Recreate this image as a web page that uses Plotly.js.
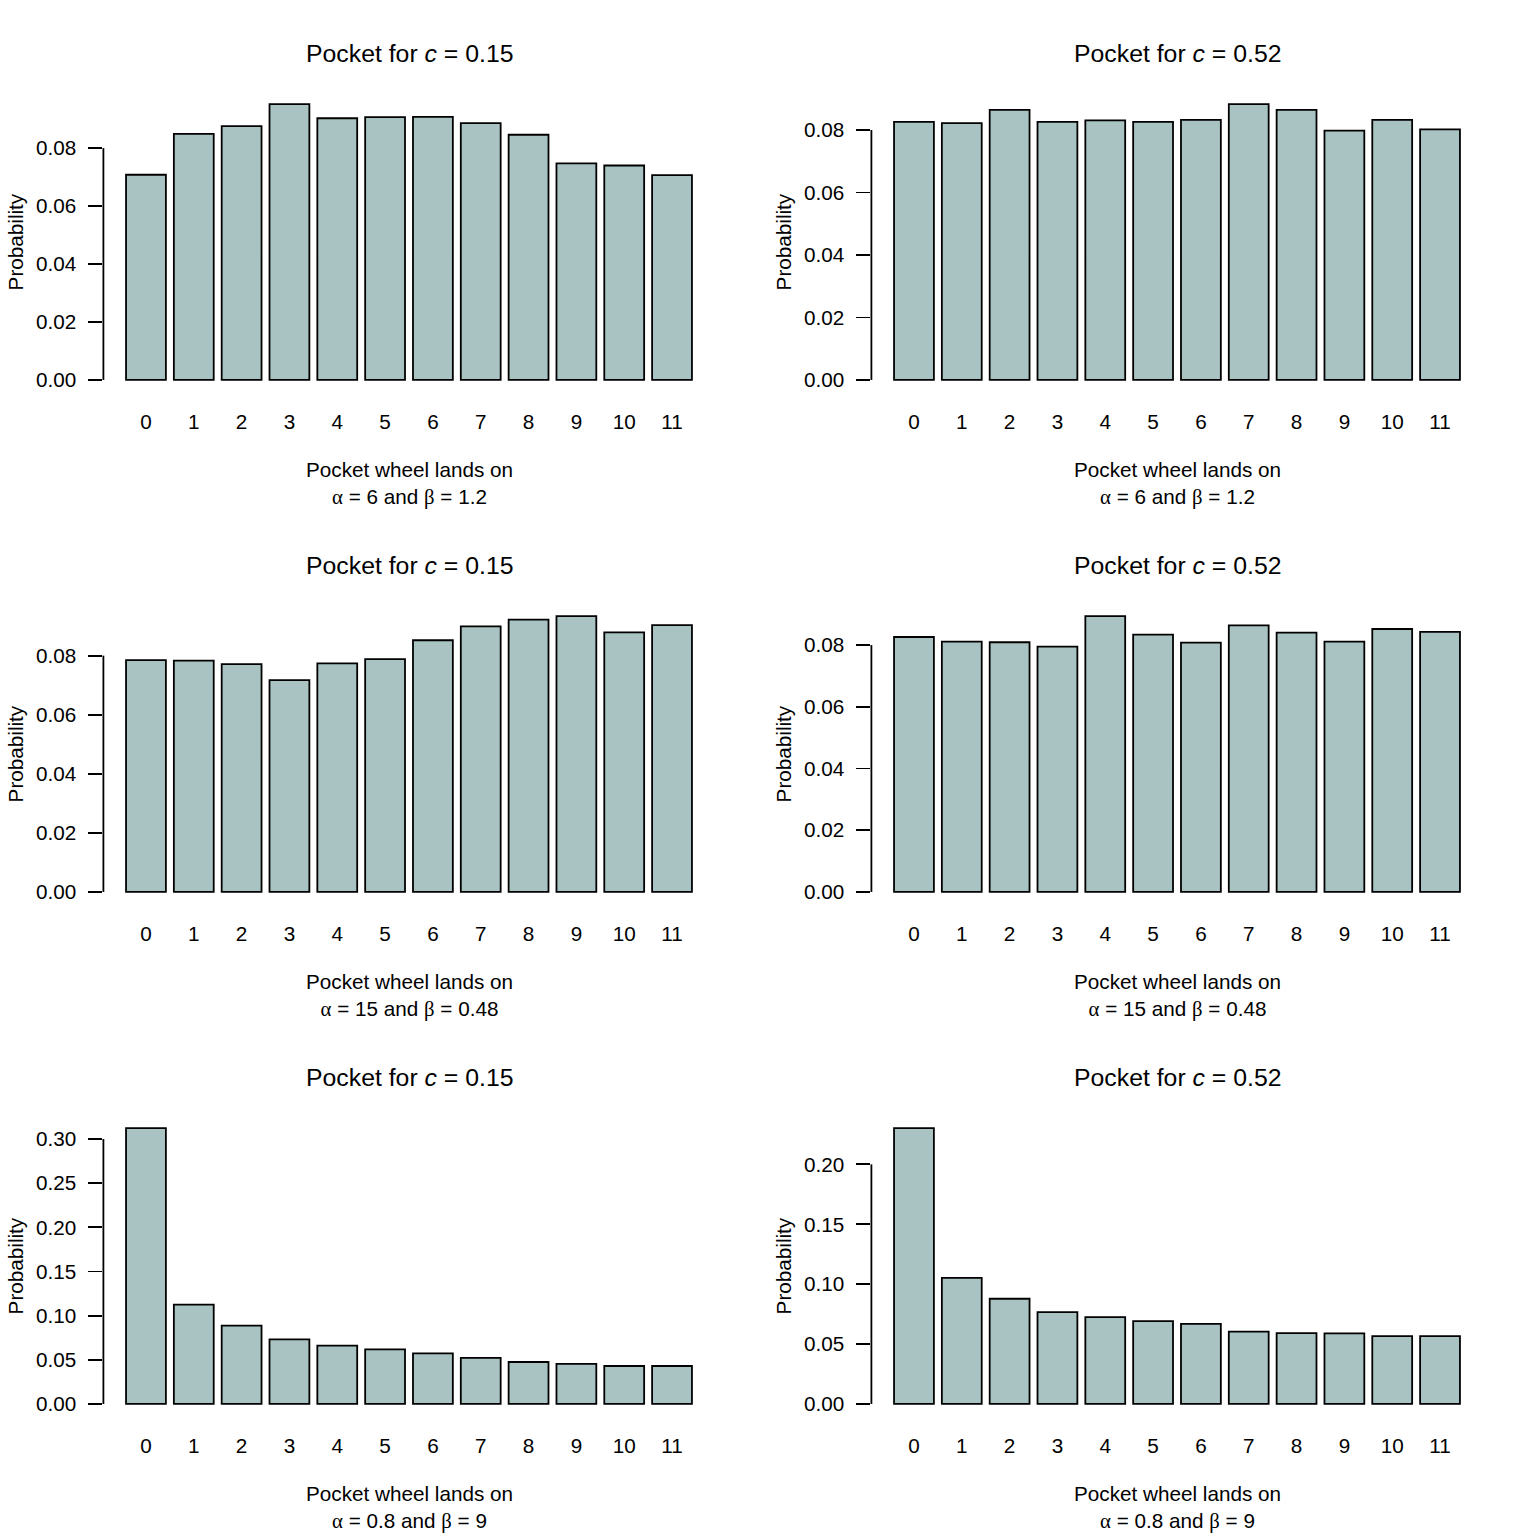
<!DOCTYPE html>
<html>
<head>
<meta charset="utf-8">
<script src="https://cdn.plot.ly/plotly-3.0.1.min.js"></script>
<style>html,body{margin:0;padding:0;background:#fff;}</style>
</head>
<body>
<div id="chart" style="width:1536px;height:1536px;"></div>
<script>
// ---- data ----
const pockets = ['0','1','2','3','4','5','6','7','8','9','10','11'];
const probA6C015 = [0.0708,0.0849,0.0876,0.0952,0.0903,0.0907,0.0908,0.0886,0.0846,0.0747,0.0740,0.0707];
const probA6C052 = [0.0826,0.0822,0.0864,0.0826,0.0831,0.0826,0.0832,0.0883,0.0864,0.0798,0.0832,0.0802];
const probA15C015 = [0.0785,0.0783,0.0771,0.0717,0.0774,0.0788,0.0852,0.0899,0.0922,0.0934,0.0879,0.0903];
const probA15C052 = [0.0826,0.0811,0.0809,0.0795,0.0894,0.0834,0.0808,0.0864,0.0840,0.0811,0.0852,0.0843];
const probA08C015 = [0.3125,0.1124,0.0887,0.0732,0.0660,0.0619,0.0574,0.0521,0.0475,0.0453,0.0430,0.0430];
const probA08C052 = [0.2303,0.1053,0.0878,0.0767,0.0725,0.0692,0.0669,0.0603,0.0592,0.0589,0.0567,0.0567];

const ticksSmall = [0.00,0.02,0.04,0.06,0.08];
const ticksBL = [0.00,0.05,0.10,0.15,0.20,0.25,0.30];
const ticksBR = [0.00,0.05,0.10,0.15,0.20];

const cValues = ['0.15','0.52'];
const paramLabels = [
  ['6','1.2'],
  ['15','0.48'],
  ['0.8','9']
];

const panels = [
  {y: probA6C015, ticks: ticksSmall, row: 0, col: 0},
  {y: probA6C052, ticks: ticksSmall, row: 0, col: 1},
  {y: probA15C015, ticks: ticksSmall, row: 1, col: 0},
  {y: probA15C052, ticks: ticksSmall, row: 1, col: 1},
  {y: probA08C015, ticks: ticksBL, row: 2, col: 0},
  {y: probA08C052, ticks: ticksBR, row: 2, col: 1}
];

// ---- layout geometry (pixels) ----
const W = 1536, H = 1536;
const colX = [[103.4, 714.6], [871.4, 1482.6]];
const rowTop = 93, rowH = 298, rowStep = 512;
const FONT = '"Liberation Sans", Arial, Helvetica, sans-serif';
const SERIF = "'Liberation Serif','DejaVu Serif',serif";
const barColor = '#A9C2C2';
const fs = 20.7;

const data = [];
const layout = {
  width: W, height: H,
  margin: {l:0, r:0, t:0, b:0},
  paper_bgcolor: '#fff', plot_bgcolor: 'rgba(0,0,0,0)',
  showlegend: false,
  font: {family: FONT, size: fs, color: '#000'},
  annotations: [], shapes: []
};

const xIdx = pockets.map((p, i) => i);
const barW = 1/1.2;

panels.forEach((p, k) => {
  const n = k + 1;
  const xa = 'x' + (n === 1 ? '' : n), ya = 'y' + (n === 1 ? '' : n);
  data.push({
    type: 'bar', x: xIdx, y: p.y, width: barW,
    xaxis: xa, yaxis: ya,
    marker: {color: barColor, line: {color: '#000', width: 1.8}},
    hoverinfo: 'x+y'
  });
  const [x0, x1] = colX[p.col];
  const top = rowTop + p.row * rowStep, bot = top + rowH;
  const ymax = Math.max(...p.y);
  const span = (xIdx[xIdx.length-1] + barW/2) - (xIdx[0] - barW/2);
  layout['xaxis' + (n === 1 ? '' : n)] = {
    domain: [x0 / W, x1 / W],
    anchor: ya,
    range: [xIdx[0] - barW/2 - 0.04*span, xIdx[xIdx.length-1] + barW/2 + 0.04*span],
    tickvals: xIdx, ticktext: pockets,
    ticks: '', showline: false, showgrid: false, zeroline: false,
    ticklabelstandoff: 16,
    tickfont: {family: FONT, size: fs, color: '#000'},
    fixedrange: true
  };
  layout['yaxis' + (n === 1 ? '' : n)] = {
    domain: [1 - bot / H, 1 - top / H],
    anchor: xa,
    range: [-0.04*ymax, 1.04*ymax],
    tickvals: p.ticks,
    ticktext: p.ticks.map(v => v.toFixed(2)),
    ticks: 'outside', ticklen: 14, tickwidth: 1.8, tickcolor: '#000',
    ticklabelstandoff: 8,
    showline: false, showgrid: false, zeroline: false,
    tickfont: {family: FONT, size: fs, color: '#000'},
    fixedrange: true
  };
  // R-style axis line from first to last tick
  layout.shapes.push({
    type: 'line', xref: xa + ' domain', yref: ya,
    x0: 0, x1: 0, y0: p.ticks[0], y1: p.ticks[p.ticks.length-1],
    line: {color: '#000', width: 1.8}
  });
  const cx = (x0 + x1) / 2 / W;
  const rowOff = p.row * rowStep;
  // title
  layout.annotations.push({
    xref: 'paper', yref: 'paper', x: cx, y: 1 - (53 + rowOff) / H,
    xanchor: 'center', yanchor: 'middle', showarrow: false,
    text: 'Pocket for <i>c</i> = ' + cValues[p.col],
    font: {family: FONT, size: 24.8, color: '#000'}
  });
  // x label (two lines)
  const pl = paramLabels[p.row];
  layout.annotations.push({
    xref: 'paper', yref: 'paper', x: cx, y: 1 - (483 + rowOff) / H,
    xanchor: 'center', yanchor: 'middle', showarrow: false,
    text: 'Pocket wheel lands on<br>' +
          '<span style="font-family:' + SERIF + '">α</span> = ' + pl[0] +
          ' and <span style="font-family:' + SERIF + '">β</span> = ' + pl[1],
    font: {family: FONT, size: fs, color: '#000'}
  });
  // y label
  layout.annotations.push({
    xref: 'paper', yref: 'paper', x: (x0 - 88) / W, y: 1 - (top + rowH/2) / H,
    xanchor: 'center', yanchor: 'middle', showarrow: false, textangle: -90,
    text: 'Probability',
    font: {family: FONT, size: fs, color: '#000'}
  });
});

Plotly.newPlot('chart', data, layout, {staticPlot: true, displayModeBar: false});
</script>
</body>
</html>
